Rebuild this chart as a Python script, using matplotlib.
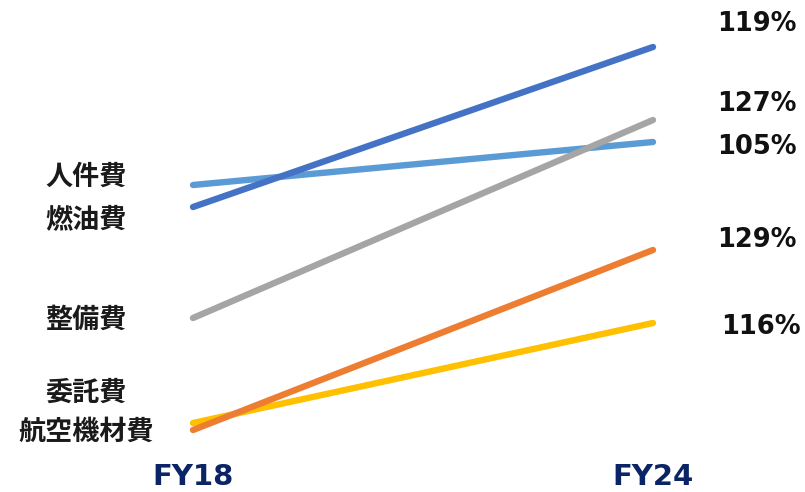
import matplotlib
matplotlib.use("Agg")
import matplotlib.pyplot as plt

# コスト項目 (FY18 -> FY24)
items = ["人件費", "燃油費", "整備費", "委託費", "航空機材費"]
fy18 = [86.5, 84.3, 73.2, 62.7, 62.0]
fy24 = [90.8, 100.3, 93.0, 72.7, 80.0]
ratio_labels = ["105%", "119%", "127%", "116%", "129%"]
colors = ["#5B9BD5", "#4472C4", "#A5A5A5", "#FFC000", "#ED7D31"]

# 左ラベルの縦位置 (重なりを避けるためにずらしてある)
left_label_y = [87.3, 83.0, 73.0, 65.7, 61.8]
right_label_y = [90.3, 102.6, 94.6, 72.3, 81.0]
right_label_x = [1.139, 1.139, 1.139, 1.148, 1.139]
years = ["FY18", "FY24"]

plt.rcParams["font.family"] = ["Noto Sans CJK JP", "DejaVu Sans"]

fig = plt.figure(figsize=(8.05, 4.92), dpi=100)
ax = fig.add_axes([0, 0, 1, 1])
ax.set_xlim(-193 / 460, 612 / 460)
ax.set_ylim(55.8, 105.0)
ax.axis("off")

for i in range(len(items)):
    ax.plot([0, 1], [fy18[i], fy24[i]], color=colors[i], lw=4.6,
            solid_capstyle="round", zorder=3)
    ax.text(-0.233, left_label_y[i], items[i], ha="center", va="center",
            fontsize=19.5, fontweight="bold", color="#1a1a1a")
    ax.text(right_label_x[i], right_label_y[i], ratio_labels[i], ha="left",
            va="center", fontsize=18.5, fontweight="bold", family="DejaVu Sans",
            color="#111111")

for x, yr in zip([0, 1], years):
    ax.text(x, 57.3, yr, ha="center", va="center", fontsize=21,
            fontweight="bold", family="DejaVu Sans", color="#0B2466")

fig.savefig("out.png", dpi=100)
